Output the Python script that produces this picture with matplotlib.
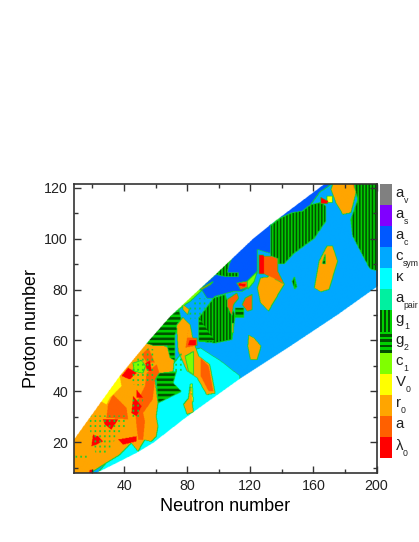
import numpy as np
import matplotlib
matplotlib.use('Agg')
import matplotlib.pyplot as plt
from matplotlib.colors import ListedColormap
from matplotlib.path import Path
from matplotlib.ticker import MultipleLocator

plt.rcParams['font.family'] = ['Liberation Sans', 'DejaVu Sans']

base_names = ['\u03bb', 'a', 'r', 'V', 'c', 'g', 'g', 'a', '\u03ba', 'c', 'a', 'a', 'a']
sub_names = ['0', '', '0', '0', '1', '2', '1', 'pair', '', 'sym', 'c', 's', 'v']
LAM, A, R0, V0, C1, G2, G1, AP, KAP, CS, AC, AS, AV = range(13)
colors = ['#ff0000', '#ff6000', '#ffa500', '#ffff00', '#80ff00', '#00d000', '#00d000', '#00f0a0',
          '#00ffff', '#00a8ff', '#0058ff', '#8000ff', '#808080', '#005000', '#10d030']

upper_N = [7.3, 25.3, 36.9, 56, 68.9, 97.5, 120.8, 132.4, 166, 170, 200]
upper_Z = [20.5, 36, 46, 60.3, 69.4, 85.8, 99.5, 105.4, 121, 124, 140]
lower_N = [14, 22, 30.6, 37, 47.5, 58, 77.1, 83.7, 113, 143, 174.6, 200]
lower_Z = [6, 8, 10.6, 12.6, 15.9, 19.8, 29, 32, 45, 57, 70, 81.2]

regions = [
    (CS, [(85, 30), (201, 30), (201, 125), (85, 125)]),
    (KAP, [(22, 6), (60, 18), (113, 44), (113, 46), (100.6, 52), (88, 57), (76, 55), (69, 49), (61.3, 35.5), (60.2, 30.2), (61.3, 26.3), (60.2, 22.4), (57, 20.4), (52.8, 21), (48.6, 16.5), (44.3, 19.8), (37, 15.2), (28.5, 12), (24.4, 9)]),
    (R0, [(6, 6), (20, 6), (20, 8.7), (28.5, 12), (37, 15.2), (44.3, 19.8), (48.6, 16.5), (52.8, 21), (57, 20.4), (60.2, 22.4), (61.3, 26.3), (60.2, 30.2), (61.3, 35.5), (59.4, 45), (71, 48), (72, 56), (64.6, 58), (54, 63), (30, 50), (6, 25)]),
    (G2, [(60.2, 45.9), (62.3, 47.2), (72.9, 47.9), (70.8, 43.3), (76, 40), (61.3, 35.5)]),
    (G2, [(53, 59), (74, 74), (76, 68), (72, 62), (72, 52), (69, 53), (67, 58), (64, 58), (58, 58)]),
    (G1, [(96.4, 76.6), (103.8, 78), (106, 73.4), (109, 71.4), (110, 69.4), (108, 60.3), (97.5, 59), (87, 59.6), (87, 68.8)]),
    (G2, [(87, 68.8), (97, 59.4), (87, 59.4)]),
    (AC, [(120.8, 100), (97.5, 85.8), (86.9, 79.9), (89, 79.6), (92, 76.5), (96.4, 76.6), (97.5, 77.3), (109, 79.2), (114.4, 79.2), (119.7, 81.2), (123.9, 86.4), (124, 95.6), (132.4, 94), (132.4, 106)]),
    (AC, [(132.4, 106), (166, 122), (172.6, 122), (166, 119), (164, 118.4), (157.8, 113.2), (152.5, 110.6), (146, 110), (138.8, 108)]),
    (G1, [(97.5, 85.8), (109, 93.5), (106, 89.7), (105, 86.4), (112, 86.4), (112, 85), (103.8, 85)]),
    (G1, [(132.4, 105), (138.8, 108), (146, 110), (152.5, 110.6), (157.8, 113.2), (164, 114), (167.3, 112.5), (167.3, 106.7), (160, 100), (147, 94), (141, 90), (132.4, 90)]),
    (G1, [(184.2, 123), (201, 123), (201, 87), (195, 88), (188.5, 95.6), (184.2, 100.8), (183, 107.3), (187.4, 115)]),
    (R0, [(170.5, 119), (172.6, 123), (184.2, 123), (186.4, 117.8), (183.2, 110), (177.9, 109.3), (173.6, 113.9)]),
    (A, [(183, 123), (186, 123), (185, 119)]),
    (V0, [(168, 114), (171.5, 114), (171.5, 116.5), (168, 116.5)]),
    (LAM, [(164, 113.5), (168.5, 113.5), (168.5, 114.5), (164, 116)]),
    (R0, [(160, 80.5), (163, 91), (168, 97), (171.5, 97), (174.7, 91), (169.4, 80), (164, 79)]),
    (G2, [(165, 90), (167, 94), (167, 90)]),
    (G1, [(146, 83), (147.5, 85), (149, 81), (147.5, 80)]),
    (R0, [(124, 80.5), (126, 84.5), (132, 85), (141, 82), (131, 71.4), (126, 74.7)]),
    (A, [(128, 86), (128, 93), (133, 93), (137, 92), (137, 87), (141, 82), (135, 84)]),
    (LAM, [(125, 86), (125, 93.6), (128, 93.6), (128, 86)]),
    (R0, [(118.6, 62), (121.8, 61), (126.4, 57.7), (123.9, 52.5), (119.6, 52.5), (118, 57.7)]),
    (A, [(104.9, 76), (111, 78.6), (112.3, 76.6), (109, 74), (108, 69.4), (104.9, 73.4)]),
    (A, [(116.5, 76.6), (120.7, 78), (120.7, 72), (117.6, 71.4), (114.4, 74)]),
    (G2, [(110, 72.7), (115.4, 72.7), (115.4, 69), (110, 69)]),
    (R0, [(108, 66.8), (109, 66.8), (109, 63), (108, 63)]),
    (A, [(111, 82.5), (117.6, 83.2), (119.7, 81.2), (113.3, 79.9)]),
    (LAM, [(112, 82.2), (116.5, 82), (116, 81), (112, 81.3)]),
    (C1, [(117.6, 83.2), (124, 87), (122, 83), (118, 80)]),
    (R0, [(73, 66), (77, 69), (81.6, 66), (83.7, 59.6), (87, 53.8), (94, 50.5), (97.4, 39.4), (92, 38.7), (86, 45.3), (79.5, 48), (74, 55.7)]),
    (A, [(79.5, 61), (86, 61), (86, 58), (78.4, 57), (81, 67)]),
    (LAM, [(81, 60), (85, 60), (85, 58), (80, 58)]),
    (C1, [(78.4, 53.8), (83.7, 55.7), (83.7, 46.6), (80.5, 48)]),
    (A, [(88, 53), (93, 50), (96, 40), (93, 40), (88, 46)]),
    (R0, [(81.6, 43), (82.6, 37.4), (83.7, 32), (79.5, 31), (77.4, 35), (80.5, 37.4)]),
    (V0, [(82, 43), (83, 43), (83.5, 36), (82.7, 36)]),
    (C1, [(70, 70), (81.6, 77.3), (86.9, 79.9), (89, 79.6), (81.6, 75.3), (78.4, 74)]),
    (A, [(86.9, 79.9), (96.4, 83.2), (94.3, 81.8), (89, 79.9)]),
    (CS, [(79.5, 72), (86.9, 76.6), (94.3, 76), (96.4, 76.6), (86.9, 68.8), (81.6, 68.1)]),
    (R0, [(77, 74), (81, 72), (80, 70), (77, 72)]),
    (A, [(53.9, 47.2), (60.2, 50.5), (61.9, 47.2), (59.1, 44), (57.7, 36.8), (51.7, 31.5), (52.8, 28.3), (51.7, 21.1), (48.6, 21.1), (47.5, 26.3), (46.4, 34.2), (49.6, 38.1), (52.8, 42)]),
    (A, [(50.7, 54.4), (55, 57), (59.1, 51.2), (53.9, 51.2)]),
    (C1, [(45.4, 51.1), (50.7, 52.2), (53.4, 49.8), (51.7, 47.2), (46.4, 47.9)]),
    (LAM, [(38, 46), (42.2, 49.2), (47.5, 47.2), (43.3, 44.6)]),
    (LAM, [(53, 51), (56, 52), (57, 48), (54, 48)]),
    (A, [(29.5, 34.8), (32.7, 38.7), (38, 35.5), (41.2, 33.5), (42.2, 29), (28.5, 29.6)]),
    (V0, [(25.3, 36), (36.9, 46), (38, 42), (30.6, 37.4), (28.5, 34.8)]),
    (LAM, [(20, 23), (23.2, 22.4), (26.3, 20.4), (22.1, 19.1), (19, 18.5)]),
    (LAM, [(35.9, 21.1), (47.5, 22.4), (47.5, 20.4), (39, 19.1)]),
    (LAM, [(26.3, 29), (35.9, 29), (31.6, 25), (27.4, 27)]),
    (LAM, [(45.4, 38.1), (50.7, 34.2), (47.5, 30.2), (44.3, 31.5)]),
    (LAM, [(47.5, 40.7), (51.7, 37.4), (47.5, 37.4)]),
    (LAM, [(17, 6), (21, 6), (20, 9.3), (18, 9.3)]),
]
dot_regions = [
    [(18, 30.5), (42, 30.5), (42, 27), (35, 22), (28, 15), (22, 15), (18, 25)],
    [(8, 14), (16, 14), (16, 15.5), (8, 15.5)],
    [(43, 43), (43, 47), (47, 52), (55, 57), (60, 56), (60, 45), (50, 42)],
    [(44, 38), (52, 38), (50, 30), (44, 30)],
    [(70, 52), (78, 56), (78, 47), (70, 48)],
    [(79.5, 72), (86.9, 76.6), (94.3, 76), (86.9, 68.8), (81.6, 68.1)],
]

step = 0.25
N_edges = np.arange(8, 200 + step / 2, step)
Z_edges = np.arange(8, 121.6 + step / 2, step)
Nc, Zc = np.meshgrid((N_edges[:-1] + N_edges[1:]) / 2, (Z_edges[:-1] + Z_edges[1:]) / 2)
pts = np.column_stack([Nc.ravel(), Zc.ravel()])
grid = np.full(Nc.shape, CS)
for cat, poly in regions:
    grid[Path(poly).contains_points(pts).reshape(Nc.shape)] = cat

dots = np.zeros(Nc.shape, bool)
for poly in dot_regions:
    dots |= Path(poly).contains_points(pts).reshape(Nc.shape)

# thin green seam between regions, except between the warm colours
g = np.where(grid == G2, G1, grid)
warm = g <= V0
edge = np.zeros(grid.shape, bool)
edge[:, :-2] |= (g[:, :-2] != g[:, 2:]) & ~(warm[:, :-2] & warm[:, 2:])
edge[:-1, :] |= (g[:-1, :] != g[1:, :]) & ~(warm[:-1, :] & warm[1:, :])

img = grid.copy()
img[(grid == G1) & (Nc % 2 < 0.9)] = 13
img[(grid == G2) & (Zc % 2 < 0.9)] = 13
img[edge] = 14
img[dots & (Nc % 3 < 1.1) & (Zc % 2 < 0.8)] = 14
outside = (Zc > np.interp(Nc, upper_N, upper_Z)) | (Zc < np.interp(Nc, lower_N, lower_Z))
cmap = ListedColormap(colors)
rgba = cmap(img / 14.0 * (14 / 15) + 0.5 / 15)
rgba[outside] = (1, 1, 1, 1)

fig = plt.figure(figsize=(4.19, 5.42), dpi=100)
W, H = 419, 542
ax = fig.add_axes([73.5 / W, 1 - 473 / H, (376.5 - 73.5) / W, (473 - 183.5) / H])
ax.imshow(rgba, origin='lower', extent=(8, 200, 8, 121.6), aspect='auto', interpolation='hanning', interpolation_stage='rgba')
ax.set_xlim(8, 200)
ax.set_ylim(8, 121.6)
ax.xaxis.set_major_locator(MultipleLocator(40))
ax.xaxis.set_minor_locator(MultipleLocator(20))
ax.yaxis.set_major_locator(MultipleLocator(20))
ax.yaxis.set_minor_locator(MultipleLocator(10))
ax.tick_params(which='major', direction='in', length=5, width=1, top=True, right=True, labelsize=10.3, pad=4, color='#333333', labelcolor='#222222')
ax.tick_params(which='minor', direction='in', length=2.8, width=1, top=True, right=True, color='#333333')
for s in ax.spines.values():
    s.set_linewidth(1.2)
    s.set_color('#333333')
ax.set_xlabel('Neutron number', fontsize=13, labelpad=4)
ax.set_ylabel('Proton number', fontsize=13, labelpad=3)

lax = fig.add_axes([380 / W, 1 - 458 / H, 12 / W, (458 - 184) / H])
sub = 8
leg = np.repeat(np.arange(13), sub)[:, None].repeat(6, axis=1)
leg[(leg == G1) & (np.arange(6)[None, :] % 2 == 0)] = 13
rows = np.arange(13 * sub)[:, None] % 2 == 0
leg[(leg == G2) & rows] = 13
lax.pcolormesh(np.linspace(0, 1, 7), np.linspace(0, 13, 13 * sub + 1), leg, cmap=cmap, vmin=-0.5, vmax=14.5)
lax.set_xlim(0, 1)
lax.set_ylim(0, 13)
lax.axis('off')
for i, (b, s) in enumerate(zip(base_names, sub_names)):
    t = lax.text(1.3, i + 0.4, b, fontsize=10.8, va='baseline', ha='left', color='#222222', clip_on=False)
    if s:
        lax.annotate(s, xy=(1, 0), xycoords=t, xytext=(0, -2.2), textcoords='offset points',
                     fontsize=6.3, va='baseline', ha='left', color='#222222', annotation_clip=False)
fig.savefig('out.png', dpi=100)
